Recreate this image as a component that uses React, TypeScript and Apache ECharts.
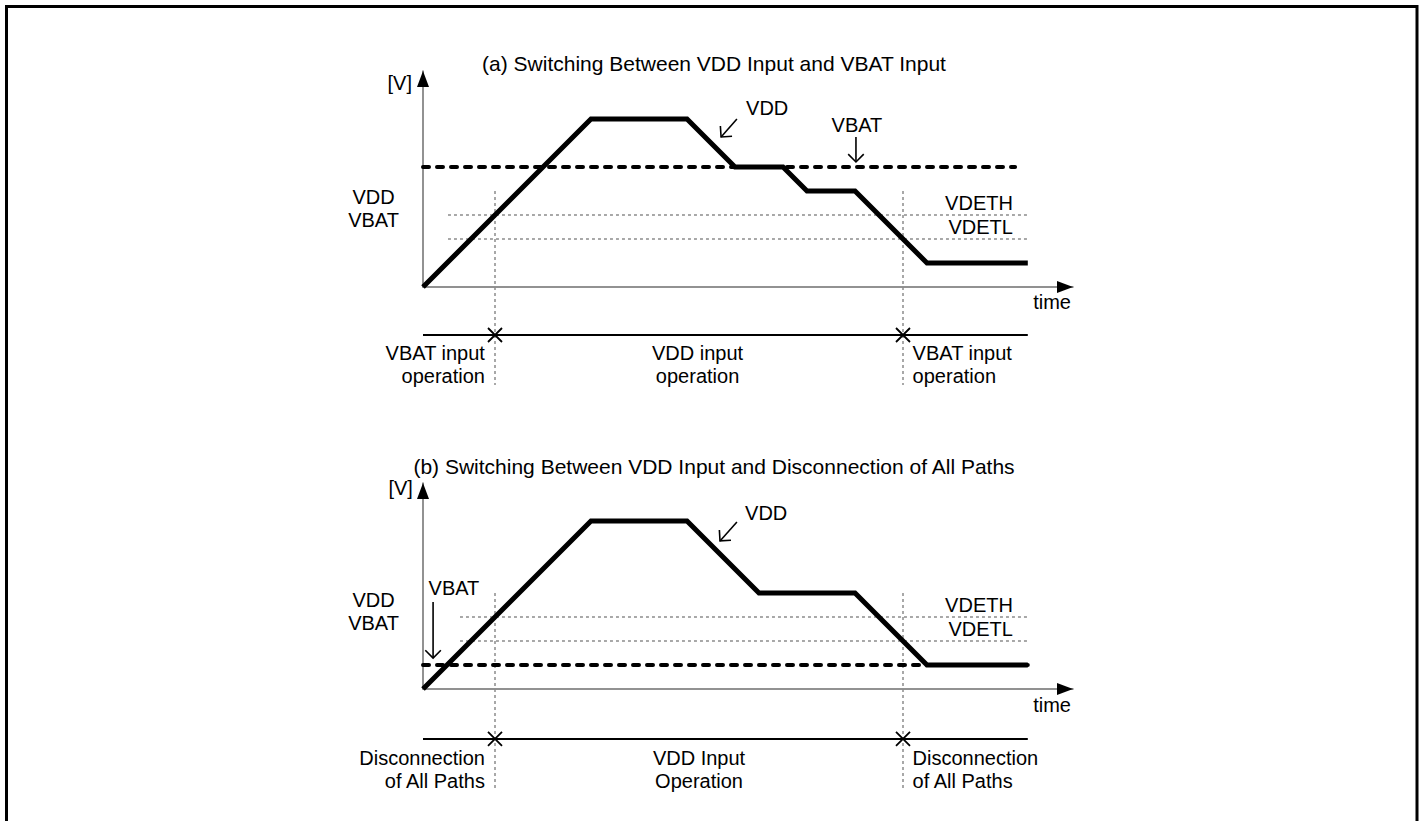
import React, { useEffect, useRef } from "react";
import * as echarts from "echarts";

type Pt = [number, number];

const FONT = "'Liberation Sans', Arial, Helvetica, sans-serif";
const PX = 24; // pixels per diagram unit (both axes)
const X_MAX = 650 / PX;
const LOWER_MIN = -110 / PX;

// ---------- data: panel (a) ----------
const titleA = "(a) Switching Between VDD Input and VBAT Input";
const vddTimeA = [0, 7, 11, 13, 15, 16, 18, 21, 25.2];
const vddVoltA = [0, 7, 7, 5, 5, 4, 4, 1, 1];
const vbatLevelA = 5;
const vbatEndA = 24.67;
const thresholdStartA = 1.04;
const phaseLabelsA = ["VBAT input\noperation", "VDD input\noperation", "VBAT input\noperation"];

// ---------- data: panel (b) ----------
const titleB = "(b) Switching Between VDD Input and Disconnection of All Paths";
const vddTimeB = [0, 7, 11, 14, 18, 21, 25.2];
const vddVoltB = [0, 7, 7, 4, 4, 1, 1];
const vbatLevelB = 1;
const vbatEndB = 25.2;
const thresholdStartB = 1.54;
const phaseLabelsB = ["Disconnection\nof All Paths", "VDD Input\nOperation", "Disconnection\nof All Paths"];

// ---------- shared ----------
const vdethLevel = 3;
const vdetlLevel = 2;
const thresholdEnd = 25.2;
const switchTimes = [3, 20];
const switchTop = 4;
const timelineEnd = 25.2;

const panels = [
  {
    title: titleA, titleTop: 47,
    up: 0, low: 1, gridTop: 71, yMax: 216 / PX,
    vddT: vddTimeA, vddV: vddVoltA, vbat: vbatLevelA, vbatEnd: vbatEndA,
    thrStart: thresholdStartA, timelineY: -2, switchBottom: -4.08,
    phases: phaseLabelsA, phaseY: -3.23, phaseX: [2.58, 11.44, 20.4], timeY: -0.625,
    vLabel: [-0.46, 8.5] as Pt, sideLabel: [-2.06, 3.27] as Pt,
    vddText: [13.46, 7.46] as Pt, vddArrow: [[13.08, 7.0], [12.42, 6.25]] as Pt[],
    vbatText: [18.08, 6.75] as Pt, vbatArrow: [[18.04, 6.25], [18.04, 5.21]] as Pt[],
  },
  {
    title: titleB, titleTop: 450,
    up: 2, low: 3, gridTop: 483, yMax: 206 / PX,
    vddT: vddTimeB, vddV: vddVoltB, vbat: vbatLevelB, vbatEnd: vbatEndB,
    thrStart: thresholdStartB, timelineY: -2.08, switchBottom: -4.12,
    phases: phaseLabelsB, phaseY: -3.35, phaseX: [2.58, 11.5, 20.4], timeY: -0.667,
    vLabel: [-0.42, 8.375] as Pt, sideLabel: [-2.06, 3.25] as Pt,
    vddText: [13.42, 7.33] as Pt, vddArrow: [[13.08, 6.96], [12.375, 6.17]] as Pt[],
    vbatText: [1.29, 4.21] as Pt, vbatArrow: [[0.42, 3.625], [0.42, 1.29]] as Pt[],
  },
];

function seg(data: Pt[], ai: number, color: string, width: number, type: any, z: number, cap: any = "butt") {
  return {
    type: "line", xAxisIndex: ai, yAxisIndex: ai, data, symbol: "none", silent: true, clip: false, z,
    lineStyle: { color, width, type, cap, join: "miter", opacity: 1 },
  };
}

function arrowHead(from: Pt, to: Pt, len = 11 / PX, ang = Math.PI / 4): Pt[] {
  const dx = to[0] - from[0], dy = to[1] - from[1];
  const n = Math.hypot(dx, dy);
  const ux = dx / n, uy = dy / n;
  const rot = (a: number): Pt => [
    to[0] - len * (ux * Math.cos(a) - uy * Math.sin(a)),
    to[1] - len * (ux * Math.sin(a) + uy * Math.cos(a)),
  ];
  return [rot(ang), to, rot(-ang)];
}

function lbl(p: Pt, text: string, align = "center") {
  return {
    value: p,
    label: {
      show: true, position: "inside", formatter: text, align, verticalAlign: "middle",
      fontSize: 20, lineHeight: 23, color: "#000", fontFamily: FONT, opacity: 1,
      textBorderWidth: 0, textBorderColor: "transparent", textShadowBlur: 0,
    },
  };
}

function labelSeries(ai: number, data: any[]) {
  return {
    type: "scatter", xAxisIndex: ai, yAxisIndex: ai, data, symbolSize: 0, silent: true, clip: false, z: 10,
    itemStyle: { color: "#000", opacity: 1 },
  };
}

function buildOption() {
  const grids: any[] = [];
  const xAxes: any[] = [];
  const yAxes: any[] = [];
  const series: any[] = [];
  const titles: any[] = [];
  const GREY = "#8c8c8c";

  panels.forEach((p) => {
    titles.push({
      text: p.title, left: "center", top: p.titleTop,
      textStyle: { fontSize: 21, lineHeight: 22, fontWeight: "normal", color: "#000", fontFamily: FONT },
    });
    const upH = p.yMax * PX;
    grids[p.up] = { left: 423, top: p.gridTop, width: 650, height: upH };
    grids[p.low] = { left: 423, top: p.gridTop + upH, width: 650, height: -LOWER_MIN * PX };
    const axisBase = {
      type: "value", axisTick: { show: false }, axisLabel: { show: false }, splitLine: { show: false },
      axisLine: { show: true, onZero: false, lineStyle: { color: "#6e6e6e", width: 1.5 } },
    };
    xAxes[p.up] = { ...axisBase, gridIndex: p.up, min: 0, max: X_MAX };
    yAxes[p.up] = { ...axisBase, gridIndex: p.up, min: 0, max: p.yMax };
    xAxes[p.low] = { ...axisBase, gridIndex: p.low, min: 0, max: X_MAX, show: false };
    yAxes[p.low] = { ...axisBase, gridIndex: p.low, min: LOWER_MIN, max: 0, show: false };

    // threshold lines
    series.push(seg([[p.thrStart, vdethLevel], [thresholdEnd, vdethLevel]], p.up, GREY, 1.5, [3, 3], 1));
    series.push(seg([[p.thrStart, vdetlLevel], [thresholdEnd, vdetlLevel]], p.up, GREY, 1.5, [3, 3], 1));
    // switching instants (vertical dotted lines)
    switchTimes.forEach((t) => {
      series.push(seg([[t, switchTop], [t, 0]], p.up, GREY, 1.5, [3, 3], 1));
      series.push(seg([[t, 0], [t, p.switchBottom]], p.low, GREY, 1.5, [3, 3], 1));
    });
    // VBAT dashed
    series.push(seg([[0, p.vbat], [p.vbatEnd, p.vbat]], p.up, "#000", 4, [6, 8], 3, "round"));
    // VDD
    series.push(seg(p.vddT.map((t, i) => [t, p.vddV[i]] as Pt), p.up, "#000", 5, "solid", 4));
    // annotation arrows
    [p.vddArrow, p.vbatArrow].forEach((a) => {
      series.push(seg([a[0], a[1]], p.up, "#000", 1.6, "solid", 5));
      series.push(seg(arrowHead(a[0], a[1]), p.up, "#000", 1.6, "solid", 5));
    });
    // axis arrowheads
    series.push({
      type: "scatter", xAxisIndex: p.up, yAxisIndex: p.up, silent: true, clip: false, z: 6,
      data: [
        { value: [0, p.yMax - 8 / PX], symbolRotate: 0 },
        { value: [X_MAX - 8 / PX, 0], symbolRotate: -90 },
      ],
      symbol: "triangle", symbolSize: [12, 16], itemStyle: { color: "#000", opacity: 1 },
    });
    // timeline
    series.push(seg([[0, p.timelineY], [timelineEnd, p.timelineY]], p.low, "#000", 2, "solid", 3));
    series.push({
      type: "scatter", xAxisIndex: p.low, yAxisIndex: p.low, silent: true, clip: false, z: 6,
      data: switchTimes.map((t) => [t, p.timelineY]),
      symbol: "path://M0,0L10,10M10,0L0,10", symbolSize: 14,
      itemStyle: { color: "rgba(0,0,0,0)", borderColor: "#000", borderWidth: 1.8, opacity: 1 },
    });
    // labels
    series.push(labelSeries(p.up, [
      lbl(p.vLabel, "[V]", "right"),
      lbl(p.sideLabel, "VDD\nVBAT", "center"),
      lbl(p.vddText, "VDD", "left"),
      lbl(p.vbatText, "VBAT", "center"),
      lbl([24.58, 3.5], "VDETH", "right"),
      lbl([24.58, 2.5], "VDETL", "right"),
    ]));
    series.push(labelSeries(p.low, [
      lbl([27.0, p.timeY], "time", "right"),
      lbl([p.phaseX[0], p.phaseY], p.phases[0], "right"),
      lbl([p.phaseX[1], p.phaseY], p.phases[1], "center"),
      lbl([p.phaseX[2], p.phaseY], p.phases[2], "left"),
    ]));
  });

  return {
    animation: false,
    backgroundColor: "#fff",
    title: titles,
    grid: grids,
    xAxis: xAxes,
    yAxis: yAxes,
    series,
    graphic: [
      {
        type: "rect", silent: true, z: 100,
        shape: { x: 6.5, y: 6.5, width: 1410.5, height: 840 },
        style: { fill: "none", stroke: "#000", lineWidth: 3 },
      },
    ],
  };
}

export default function App() {
  const ref = useRef<HTMLDivElement>(null);
  useEffect(() => {
    if (!ref.current) return;
    const chart = echarts.init(ref.current, undefined, { renderer: "svg" });
    chart.setOption(buildOption() as any);
    return () => chart.dispose();
  }, []);
  return (
    <div
      ref={ref}
      style={{ position: "absolute", left: 0, top: 0, width: 1428, height: 821, background: "#fff" }}
    />
  );
}
